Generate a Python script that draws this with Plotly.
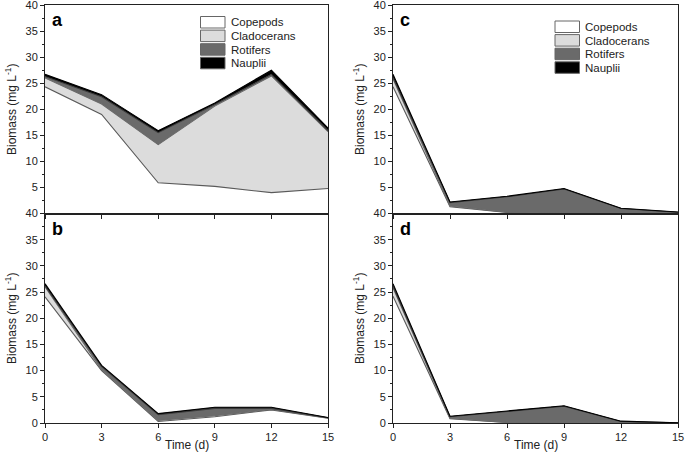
import plotly.graph_objects as go

# ---------------- data ----------------
days = [0, 3, 6, 9, 12, 15]
series_names = ["Copepods", "Cladocerans", "Rotifers", "Nauplii"]

# panel a
a_copepods = [24.3, 19.0, 5.9, 5.2, 4.0, 4.8]
a_cladocerans = [1.7, 2.0, 7.3, 15.4, 22.4, 10.9]
a_rotifers = [0.3, 1.4, 2.3, 0.3, 0.3, 0.2]
a_nauplii = [0.4, 0.4, 0.4, 0.3, 0.8, 0.5]

# panel b
b_copepods = [24.1, 10.0, 0.3, 1.2, 2.5, 0.9]
b_cladocerans = [1.9, 0.2, 0.2, 0.2, 0.1, 0.05]
b_rotifers = [0.2, 0.6, 1.1, 1.4, 0.2, 0.05]
b_nauplii = [0.4, 0.2, 0.2, 0.2, 0.2, 0.05]

# panel c
c_copepods = [24.3, 1.3, 0.2, 0.0, 0.0, 0.0]
c_cladocerans = [1.5, 0.15, 0.05, 0.0, 0.0, 0.0]
c_rotifers = [0.3, 0.65, 2.95, 4.7, 0.95, 0.25]
c_nauplii = [0.6, 0.1, 0.1, 0.1, 0.05, 0.05]

# panel d
d_copepods = [24.2, 0.8, 0.1, 0.0, 0.0, 0.0]
d_cladocerans = [1.6, 0.1, 0.0, 0.0, 0.0, 0.0]
d_rotifers = [0.3, 0.3, 2.1, 3.2, 0.3, 0.05]
d_nauplii = [0.5, 0.1, 0.1, 0.1, 0.05, 0.0]

x_ticks = [0, 3, 6, 9, 12, 15]
y_ticks_top = [5, 10, 15, 20, 25, 30, 35, 40]
y_ticks_bottom = [0, 5, 10, 15, 20, 25, 30, 35, 40]
y_minor = [2.5, 7.5, 12.5, 17.5, 22.5, 27.5, 32.5, 37.5]

# ---------------- style ----------------
FONT = "Liberation Sans, Arial, sans-serif"
fill_colors = ["#ffffff", "#dcdcdc", "#6a6a6a", "#000000"]
line_colors = ["#5a5a5a", "#6a6a6a", "#3a3a3a", "#000000"]
W, H = 685, 462


def px(x):
    return x / W


def py(y):
    return 1 - y / H


panels = [
    dict(key="a", data=[a_copepods, a_cladocerans, a_rotifers, a_nauplii],
         xpx=(45, 328), ypx=(5, 213.5), top=True),
    dict(key="b", data=[b_copepods, b_cladocerans, b_rotifers, b_nauplii],
         xpx=(45, 328), ypx=(213.5, 423), top=False),
    dict(key="c", data=[c_copepods, c_cladocerans, c_rotifers, c_nauplii],
         xpx=(393, 678), ypx=(5, 213.5), top=True),
    dict(key="d", data=[d_copepods, d_cladocerans, d_rotifers, d_nauplii],
         xpx=(393, 678), ypx=(213.5, 423), top=False),
]

fig = go.Figure()
layout = {}
annotations = []
shapes = []

for i, p in enumerate(panels, start=1):
    xa = "x" if i == 1 else f"x{i}"
    ya = "y" if i == 1 else f"y{i}"
    for k, (name, vals) in enumerate(zip(series_names, p["data"])):
        fig.add_trace(go.Scatter(
            x=days, y=vals, name=name, mode="lines",
            stackgroup=f"s{p['key']}",
            fillcolor=fill_colors[k],
            line=dict(color=line_colors[k], width=1.1),
            xaxis=xa, yaxis=ya, showlegend=False,
        ))
    xkey = "xaxis" if i == 1 else f"xaxis{i}"
    ykey = "yaxis" if i == 1 else f"yaxis{i}"
    layout[xkey] = dict(
        domain=[px(p["xpx"][0]), px(p["xpx"][1])], anchor=ya, automargin=False,
        range=[0, 15], tickvals=x_ticks, ticks="outside", ticklen=4,
        tickcolor="#222", showline=True, linecolor="#222", linewidth=1,
        mirror=True, showgrid=False, zeroline=False,
        showticklabels=not p["top"], ticklabeloverflow="allow",
        tickfont=dict(family=FONT, size=11, color="#222"),
    )
    layout[ykey] = dict(
        domain=[py(p["ypx"][1]), py(p["ypx"][0])], anchor=xa, automargin=False,
        range=[0, 40], tickvals=y_ticks_top if p["top"] else y_ticks_bottom,
        ticks="outside", ticklen=4, tickcolor="#222", ticklabeloverflow="allow",
        minor=dict(tickvals=y_minor, ticks="outside", ticklen=2, tickcolor="#222"),
        showline=True, linecolor="#222", linewidth=1, mirror=True,
        showgrid=False, zeroline=False,
        tickfont=dict(family=FONT, size=11, color="#222"),
        title=dict(text="Biomass (mg L<sup>-1</sup>)",
                   font=dict(family=FONT, size=12, color="#222"), standoff=6),
    )
    # panel letter
    annotations.append(dict(
        text=f"<b>{p['key']}</b>", x=px(p["xpx"][0] + 12), y=py(p["ypx"][0] + 15),
        xref="paper", yref="paper", showarrow=False, xanchor="center", yanchor="middle",
        font=dict(family=FONT, size=18, color="#000"),
    ))
    if not p["top"]:
        annotations.append(dict(
            text="Time (d)", x=px((p["xpx"][0] + p["xpx"][1]) / 2), y=py(445),
            xref="paper", yref="paper", showarrow=False, xanchor="center",
            yanchor="middle", font=dict(family=FONT, size=12, color="#222"),
        ))

# legends (a and c)
legend_pos = [(200.5, 16.5, 229), (555, 21, 583)]
for (sx, sy, tx) in legend_pos:
    for k, name in enumerate(series_names):
        y0 = sy + k * 13.6
        shapes.append(dict(
            type="rect", xref="paper", yref="paper",
            x0=px(sx), x1=px(sx + 24.5), y0=py(y0), y1=py(y0 + 11.5),
            fillcolor=fill_colors[k], line=dict(color="#666", width=1),
        ))
        annotations.append(dict(
            text=name, x=px(tx), y=py(y0 + 6), xref="paper", yref="paper",
            showarrow=False, xanchor="left", yanchor="middle",
            font=dict(family=FONT, size=11.5, color="#222"),
        ))

fig.update_layout(
    width=W, height=H, margin=dict(l=0, r=0, t=0, b=0),
    paper_bgcolor="white", plot_bgcolor="white",
    annotations=annotations, shapes=shapes, showlegend=False,
    **layout,
)

fig.write_html(
    "out.html",
    config={"displayModeBar": False},
    post_script="document.body.style.margin='0';document.body.style.overflow='hidden';",
)
